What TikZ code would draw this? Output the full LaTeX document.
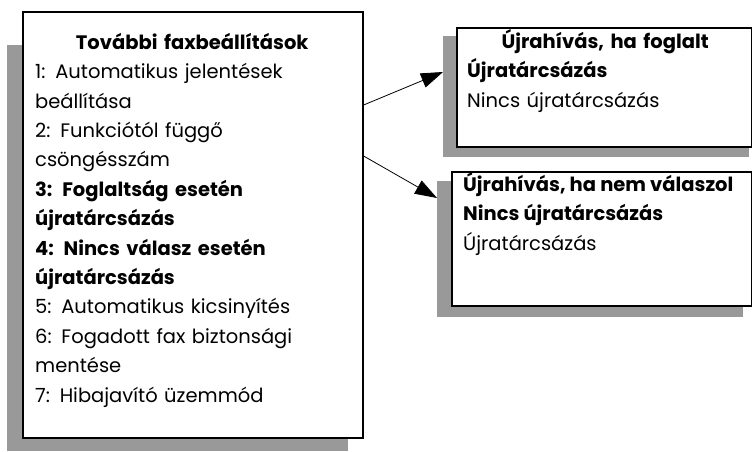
\documentclass[tikz,border=0pt]{standalone}
\usepackage{fontspec}
\setmainfont{Poppins}
\usetikzlibrary{arrows.meta,positioning,calc}
\definecolor{hpshadow}{RGB}{153,153,153}
\newcommand{\menufont}{\fontsize{19.5}{29.4}\selectfont}
\tikzset{
  menubox/.style={
    rectangle, draw=black, line width=1.6pt, fill=white,
    inner sep=0pt, anchor=north west
  },
  shadowbox/.style={
    rectangle, fill=hpshadow, inner sep=0pt, anchor=north west
  },
  menutext/.style={
    align=left, inner sep=0pt, anchor=north west, font=\menufont
  },
  arrow/.style={-{Triangle[length=22pt,width=15pt]}, line width=0.8pt}
}

\begin{document}
\begin{tikzpicture}[x=1pt, y=-1pt]
  \useasboundingbox (0,0) rectangle (752,451);

  % shadows
  \node[shadowbox, minimum width=341pt, minimum height=406pt] (mainsh)   at (7,45)   {};
  \node[shadowbox, minimum width=306pt, minimum height=121pt] (busysh)   at (443,36) {};
  \node[shadowbox, minimum width=306pt, minimum height=136pt] (noanssh)  at (437,181) {};

  % boxes
  \node[menubox, minimum width=340pt, minimum height=426pt] (main)  at (22,11)  {};
  \node[menubox, minimum width=295pt, minimum height=119pt] (busy)  at (456,27) {};
  \node[menubox, minimum width=300pt, minimum height=134pt] (noans) at (451,171) {};

  \node[menutext, text width=314pt] (maintxt) at (35,33) {%
    \makebox[314pt]{\bfseries További faxbeállítások}\\
    1: Automatikus jelentések\\
    beállítása\\
    2: Funkciótól függő\\
    csöngésszám\\
    \textbf{3: Foglaltság esetén}\\
    \textbf{újratárcsázás}\\
    \textbf{4: Nincs válasz esetén}\\
    \textbf{újratárcsázás}\\
    5: Automatikus kicsinyítés\\
    6: Fogadott fax biztonsági\\
    mentése\\
    7: Hibajavító üzemmód};
  \node[menutext, text width=276pt] (busytxt) at (467,29) {%
    \makebox[276pt]{\bfseries Újrahívás, ha foglalt}\\
    \textbf{Újratárcsázás}\\
    Nincs újratárcsázás};
  \node[menutext] (noanstxt) at (463,172) {%
    \textbf{Újrahívás, ha nem válaszol}\\
    \textbf{Nincs újratárcsázás}\\
    Újratárcsázás};

  \draw[arrow] ($(main.north east)+(0,94)$)  -- ($(busysh.north west)+(0,36)$);
  \draw[arrow] ($(main.north east)+(0,145)$) -- ($(noanssh.north west)+(0,17)$);
\end{tikzpicture}
\end{document}
